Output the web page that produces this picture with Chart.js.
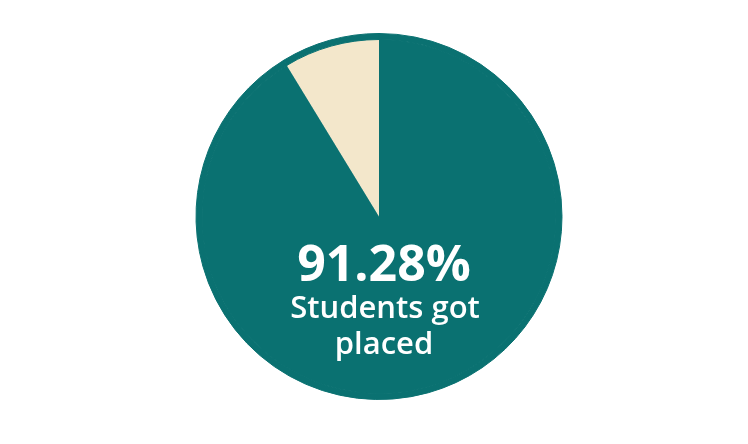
<!DOCTYPE html>
<html><head><meta charset="utf-8">
<script src="https://cdn.jsdelivr.net/npm/chart.js@4.4.0/dist/chart.umd.min.js"></script>
<style>html,body{margin:0;padding:0;background:#fff}#wrap{width:748px;height:444px}</style>
</head><body><div id="wrap"><canvas id="c" width="748" height="444"></canvas></div>
<script>
const categories = ['Placed', 'Not placed'];
const values = [91.28, 8.72];
const labelMain = '91.28%';
const labelSub = ['Students got', 'placed'];
const teal = '#0a7171';
const cream = '#f3e7cb';

const centerText = {
  id: 'centerText',
  afterDraw(chart) {
    const ctx = chart.ctx;
    const meta = chart.getDatasetMeta(1);
    const arc = meta.data[0];
    const cx = arc.x, cy = arc.y;
    ctx.save();
    ctx.fillStyle = '#ffffff';
    ctx.textAlign = 'center';
    ctx.textBaseline = 'alphabetic';
    ctx.font = 'bold 50px "Open Sans"';
    ctx.fillText(labelMain, cx + 5, cy + 64);
    ctx.font = '600 31px "Open Sans"';
    ctx.fillText(labelSub[0], cx + 6, cy + 101);
    ctx.fillText(labelSub[1], cx + 5, cy + 137);
    ctx.restore();
  }
};

new Chart(document.getElementById('c'), {
  type: 'pie',
  data: {
    labels: categories,
    datasets: [
      { data: values, backgroundColor: [teal, teal], borderColor: teal, borderWidth: 1, weight: 6 },
      { data: values, backgroundColor: [teal, cream], borderColor: [teal, cream], borderWidth: [1, 0], weight: 177 }
    ]
  },
  options: {
    responsive: false,
    animation: false,
    rotation: 0,
    layout: { padding: { top: 33, bottom: 44, left: 10, right: 0 } },
    plugins: { legend: { display: false }, tooltip: { enabled: false } }
  },
  plugins: [centerText]
});
</script></body></html>
